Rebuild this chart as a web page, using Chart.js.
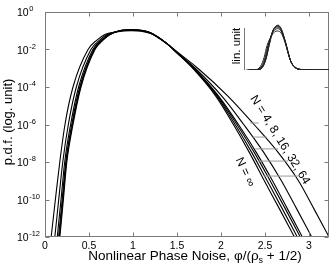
<!DOCTYPE html>
<html>
<head>
<meta charset="utf-8">
<script src="https://cdn.jsdelivr.net/npm/chart.js@4"></script>
<style>
  html, body { margin: 0; padding: 0; background: #fff; }
  #wrap { position: relative; width: 332px; height: 268px; }
  #main { position: absolute; left: 0; top: 0; }
  #inset { position: absolute; left: 244px; top: 20px; }
</style>
</head>
<body>
<div id="wrap">
  <canvas id="main" width="332" height="268"></canvas>
  <canvas id="inset" width="85" height="52"></canvas>
</div>
<script>
// Axis limits and ticks
const xMax = 3.227;
const yMin = 1e-12;
const yMax = 1;
const xTicks = [0, 0.5, 1, 1.5, 2, 2.5, 3];
const yTickExps = [0, -2, -4, -6, -8, -10, -12];
const insetXMax = 2.5;
const insetYMax = 0.128;

// Curves: x and log10(p.d.f.)
const xN4 = [0.065, 0.118, 0.168, 0.227, 0.318, 0.489, 0.59, 0.68, 0.81, 0.9, 0.98, 1.1, 1.2, 1.375, 1.5, 1.736, 2.081, 2.375, 2.651, 2.88, 3.056, 3.25];
const lgN4 = [-12.2, -10, -8, -6, -4, -2, -1.5, -1.2, -1.06, -1.01, -1.0, -1.03, -1.14, -1.65, -2.12, -3, -4.5, -6, -7.5, -9, -10.5, -12.2];

const xN8 = [0.107, 0.156, 0.202, 0.265, 0.356, 0.522, 0.619, 0.705, 0.827, 0.91, 0.99, 1.1, 1.2, 1.375, 1.5, 1.707, 2.012, 2.258, 2.487, 2.686, 2.86, 3.053];
const lgN8 = [-12.2, -10, -8, -6, -4, -2, -1.5, -1.2, -1.03, -0.985, -0.975, -1.01, -1.13, -1.65, -2.15, -3, -4.5, -6, -7.5, -9, -10.5, -12.2];

const xN16 = [0.135, 0.182, 0.224, 0.291, 0.382, 0.544, 0.638, 0.722, 0.838, 0.915, 1.0, 1.1, 1.2, 1.375, 1.5, 1.692, 1.975, 2.198, 2.402, 2.585, 2.755, 2.946];
const lgN16 = [-12.2, -10, -8, -6, -4, -2, -1.5, -1.2, -1.01, -0.97, -0.96, -1.0, -1.12, -1.65, -2.17, -3, -4.5, -6, -7.5, -9, -10.5, -12.2];

const xN32 = [0.15, 0.195, 0.236, 0.304, 0.395, 0.556, 0.649, 0.731, 0.844, 0.918, 1.0, 1.1, 1.2, 1.375, 1.5, 1.688, 1.966, 2.181, 2.379, 2.558, 2.731, 2.923];
const lgN32 = [-12.2, -10, -8, -6, -4, -2, -1.5, -1.2, -1.005, -0.962, -0.95, -0.99, -1.115, -1.65, -2.18, -3, -4.5, -6, -7.5, -9, -10.5, -12.2];

const xN64 = [0.158, 0.203, 0.242, 0.312, 0.403, 0.562, 0.654, 0.736, 0.847, 0.92, 1.0, 1.1, 1.2, 1.375, 1.5, 1.683, 1.954, 2.16, 2.35, 2.524, 2.697, 2.889];
const lgN64 = [-12.2, -10, -8, -6, -4, -2, -1.5, -1.2, -1.0, -0.958, -0.945, -0.985, -1.112, -1.65, -2.185, -3, -4.5, -6, -7.5, -9, -10.5, -12.2];

const xInf = [0.165, 0.209, 0.248, 0.318, 0.409, 0.568, 0.659, 0.74, 0.85, 0.92, 1.0, 1.1, 1.2, 1.375, 1.5, 1.678, 1.942, 2.141, 2.323, 2.492, 2.664, 2.856];
const lgInf = [-12.2, -10, -8, -6, -4, -2, -1.5, -1.2, -1.0, -0.955, -0.94, -0.98, -1.11, -1.65, -2.19, -3, -4.5, -6, -7.5, -9, -10.5, -12.2];

// Grey pointer lines of the "N = 4, 8, 16, 32, 64" label
const tagX0 = [2.33, 2.36, 2.39, 2.42, 2.49];
const tagX1 = [2.43, 2.52, 2.65, 2.76, 2.875];
const tagLg = [-5.92, -6.67, -7.3, -7.95, -8.75];

const axisColor = '#7a7a7a';
const fontFam = '"Liberation Sans", Arial, Helvetica, sans-serif';

const curves = [
    { xs: xN4, lg: lgN4 },
    { xs: xN8, lg: lgN8 },
    { xs: xN16, lg: lgN16 },
    { xs: xN32, lg: lgN32 },
    { xs: xN64, lg: lgN64 },
    { xs: xInf, lg: lgInf }
];

function toPoints(xs, lg) {
    return xs.map((x, i) => ({ x: x, y: Math.pow(10, lg[i]) }));
}

// Frame, inward ticks, tick labels and titles
const framePlugin = {
    id: 'frame',
    afterDraw(chart) {
        const ctx = chart.ctx;
        const a = chart.chartArea;
        const sx = chart.scales.x;
        const sy = chart.scales.y;
        const L = Math.round(a.left) + 0.5, R = Math.round(a.right) - 0.5;
        const T = Math.round(a.top) + 0.5, B = Math.round(a.bottom) - 0.5;

        ctx.save();
        ctx.strokeStyle = axisColor;
        ctx.lineWidth = 1;
        ctx.strokeRect(L, T, R - L, B - T);
        ctx.beginPath();
        xTicks.forEach(v => {
            const px = Math.round(sx.getPixelForValue(v)) + 0.5;
            ctx.moveTo(px, B); ctx.lineTo(px, B - 4);
            ctx.moveTo(px, T); ctx.lineTo(px, T + 4);
        });
        yTickExps.forEach(e => {
            const py = Math.round(sy.getPixelForValue(Math.pow(10, e))) + 0.5;
            ctx.moveTo(L, py); ctx.lineTo(L + 4, py);
            ctx.moveTo(R, py); ctx.lineTo(R - 4, py);
        });
        ctx.stroke();

        ctx.fillStyle = '#000';
        ctx.textBaseline = 'middle';

        // x tick labels
        ctx.font = '10.5px ' + fontFam;
        ctx.textAlign = 'center';
        xTicks.forEach(v => ctx.fillText(String(v), sx.getPixelForValue(v), a.bottom + 9));

        // y tick labels 10^e
        ctx.textAlign = 'left';
        yTickExps.forEach(e => {
            const py = sy.getPixelForValue(Math.pow(10, e));
            ctx.font = '10.5px ' + fontFam;
            ctx.fillText('10', 17, py + 1.5);
            const w = ctx.measureText('10').width;
            ctx.font = '7.5px ' + fontFam;
            ctx.fillText(e === 0 ? '0' : '-' + (-e), 17 + w + 0.5, py - 3);
        });

        // y title
        ctx.font = '13px ' + fontFam;
        ctx.save();
        ctx.translate(8, 122);
        ctx.rotate(-Math.PI / 2);
        ctx.textAlign = 'center';
        ctx.fillText('p.d.f. (log. unit)', 0, 0);
        ctx.restore();

        // x title with subscript
        const t1 = 'Nonlinear Phase Noise, \u03c6/(\u03c1';
        const t2 = 's';
        const t3 = ' + 1/2)';
        ctx.font = '13.5px ' + fontFam;
        const w1 = ctx.measureText(t1).width;
        const w3 = ctx.measureText(t3).width;
        ctx.font = '9px ' + fontFam;
        const w2 = ctx.measureText(t2).width;
        let tx = 195 - (w1 + w2 + w3) / 2;
        const ty = 256;
        ctx.textAlign = 'left';
        ctx.font = '13.5px ' + fontFam;
        ctx.fillText(t1, tx, ty);
        tx += w1;
        ctx.font = '9px ' + fontFam;
        ctx.fillText(t2, tx, ty + 5);
        tx += w2;
        ctx.font = '13.5px ' + fontFam;
        ctx.fillText(t3, tx, ty);

        // inset label
        ctx.font = '11.5px ' + fontFam;
        ctx.save();
        ctx.translate(237, 46);
        ctx.rotate(-Math.PI / 2);
        ctx.textAlign = 'center';
        ctx.fillText('lin. unit', 0, 0);
        ctx.restore();

        // curve labels
        ctx.font = '12px ' + fontFam;
        ctx.textAlign = 'center';
        ctx.save();
        ctx.translate(280, 140);
        ctx.rotate(58 * Math.PI / 180);
        ctx.fillText('N = 4, 8, 16, 32, 64', 0, 0);
        ctx.restore();
        ctx.save();
        ctx.translate(245, 172);
        ctx.rotate(65 * Math.PI / 180);
        ctx.fillText('N = \u221e', 0, 0);
        ctx.restore();

        ctx.restore();
    }
};

const curveSets = curves.map(c => ({
    data: toPoints(c.xs, c.lg),
    borderColor: '#000',
    borderWidth: 1.1,
    pointRadius: 0,
    fill: false,
    cubicInterpolationMode: 'monotone'
}));

const tagSets = tagLg.map((lg, i) => ({
    data: [{ x: tagX0[i], y: Math.pow(10, lg) }, { x: tagX1[i], y: Math.pow(10, lg) }],
    borderColor: '#9a9a9a',
    borderWidth: 1,
    pointRadius: 0,
    fill: false
}));

new Chart(document.getElementById('main'), {
    type: 'line',
    data: { datasets: tagSets.concat(curveSets) },
    options: {
        responsive: false,
        animation: false,
        devicePixelRatio: 1,
        events: [],
        layout: { padding: { left: 45, right: 3, top: 12, bottom: 31 } },
        plugins: { legend: { display: false }, tooltip: { enabled: false } },
        scales: {
            x: { type: 'linear', display: false, min: 0, max: xMax },
            y: { type: 'logarithmic', display: false, min: yMin, max: yMax }
        }
    },
    plugins: [framePlugin]
});

// Inset: same curves on a linear scale
const insetAxis = {
    id: 'insetAxis',
    afterDraw(chart) {
        const ctx = chart.ctx;
        const a = chart.chartArea;
        ctx.save();
        ctx.strokeStyle = axisColor;
        ctx.lineWidth = 1;
        ctx.beginPath();
        ctx.moveTo(0.5, a.top + 8);
        ctx.lineTo(0.5, a.bottom);
        ctx.stroke();
        ctx.restore();
    }
};

new Chart(document.getElementById('inset'), {
    type: 'line',
    data: {
        datasets: curves.map(c => ({
            data: toPoints(c.xs, c.lg),
            borderColor: '#222',
            borderWidth: 1,
            pointRadius: 0,
            fill: false,
            cubicInterpolationMode: 'monotone'
        }))
    },
    options: {
        responsive: false,
        animation: false,
        devicePixelRatio: 1,
        events: [],
        layout: { padding: { left: 0, right: 0, top: 0, bottom: 2 } },
        plugins: { legend: { display: false }, tooltip: { enabled: false } },
        scales: {
            x: { type: 'linear', display: false, min: 0, max: insetXMax },
            y: { type: 'linear', display: false, min: 0, max: insetYMax }
        }
    },
    plugins: [insetAxis]
});
</script>
</body>
</html>
